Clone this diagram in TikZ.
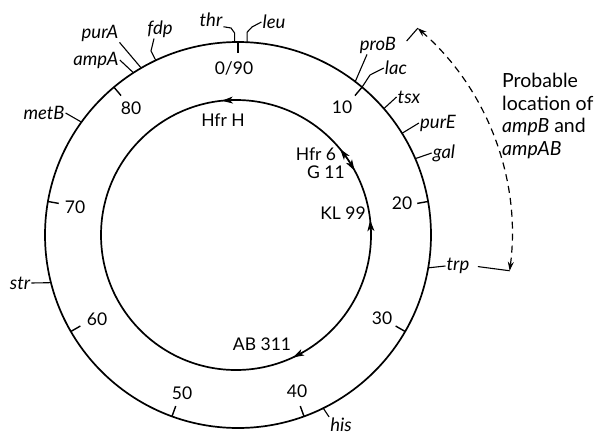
\documentclass[tikz,border=0pt]{standalone}
\usepackage{fontspec}
\setmainfont{Lato}
\usetikzlibrary{arrows.meta,calc}
\begin{document}
\begin{tikzpicture}[x=1pt,y=-1pt,
  txt/.style={font=\fontsize{17.5}{20}\selectfont, inner sep=1pt},
  gene/.style={font=\fontsize{18.5}{20}\selectfont\itshape, inner sep=1pt},
  ring/.style={line width=1.7pt},
  tickmark/.style={line width=1.4pt},
  leader/.style={line width=1.1pt},
  dir/.style={line width=1pt,-{Stealth[length=11pt,width=7pt,inset=3pt]}},
  bracket/.style={line width=1.2pt, dash pattern=on 7pt off 5pt,
    {Stealth[length=9pt,width=6pt]}-{Stealth[length=9pt,width=6pt]}}
]
\useasboundingbox (0,0) rectangle (600,436);

% centres of the chromosome map and of the transfer circle
\coordinate (O) at (238,235);
\coordinate (I) at (236,235);
\draw[ring] (O) circle[radius=193pt];
\draw[ring] (I) circle[radius=135pt];

% minute scale: 0..90 minutes, clockwise from the top
\foreach \u in {0,10,...,80}
  \draw[tickmark] ($(O)+({90-4*\u}:193pt)$) -- ($(O)+({90-4*\u}:182pt)$);

\node[txt] (n0)  at (234,68)  {0/90};
\node[txt] (n10) at (342,107) {10};
\node[txt] (n20) at (402,203) {20};
\node[txt] (n30) at (382,318) {30};
\node[txt] (n40) at (297,391) {40};
\node[txt] (n50) at (182,393) {50};
\node[txt] (n60) at (97,319)  {60};
\node[txt] (n70) at (75,207)  {70};
\node[txt] (n80) at (131,108) {80};

% gene loci on the map (angle clockwise from the top)
\foreach \n/\a in {thr/-1, leu/2.7, fdp/-25.2, purA/-30.1, ampA/-32.8,
                   metB/-54.2, str/-104.3, proB/37.4, lac/40, tsx/49.1,
                   purE/58.2, gal/66.7, trp/99.8, his/153.8}
  \coordinate (g-\n) at ($(O)+({90-\a}:193pt)$);

\node[gene] (thr)  at (211,20)  {thr};
\node[gene] (leu)  at (274,22)  {leu};
\node[gene] (fdp)  at (160,29)  {fdp};
\node[gene] (purA) at (100,33)  {purA};
\node[gene] (ampA) at (96,60)   {ampA};
\node[gene] (metB) at (44,113)  {metB};
\node[gene] (str)  at (20,283)  {str};
\node[gene] (proB) at (378,45)  {proB};
\node[gene] (lac)  at (396,68)  {lac};
\node[gene] (tsx)  at (409,97)  {tsx};
\node[gene] (purE) at (438,123) {purE};
\node[gene] (gal)  at (444,153) {gal};
\node[gene] (trp)  at (458,266) {trp};
\node[gene] (his)  at (341,425) {his};

\draw[leader] (g-thr) -- ++(0,-9) -- (231,28) -- (thr.base east);
\draw[leader] (g-leu) -- ++(0,-10) -- (252,27) -- (leu.west);
\draw[leader] (g-fdp) -- (151,51) -- ([xshift=-6pt]fdp.south);
\draw[leader] (g-purA) -- (purA.south east);
\draw[leader] (g-ampA) -- (ampA.east);
\draw[leader] (g-metB) -- (metB.east);
\draw[leader] (g-str) -- (str.east);
\draw[leader] (g-proB) -- ([xshift=-11pt]proB.south);
\draw[leader] (g-lac) -- (370,75) -- (lac.west);
\draw[leader] (g-tsx) -- (tsx.west);
\draw[leader] (g-purE) -- (purE.west);
\draw[leader] (g-gal) -- (gal.west);
\draw[leader] (g-trp) -- (trp.west);
\draw[leader] (g-his) -- (his.north west);

% points of origin and direction of transfer of the Hfr strains
\node[txt] (hfrH)  at (223,120) {Hfr H};
\node[txt] (hfr6)  at (316,154) {Hfr 6};
\node[txt] (g11)   at (326,172) {G 11};
\node[txt] (kl99)  at (343,213) {KL 99};
\node[txt] (ab311) at (262,344) {AB 311};

\draw[dir] ($(I)+(91:135pt)$)   -- ($(I)+(96:135pt)$);
\draw[dir] ($(I)+(34.5:135pt)$) -- ($(I)+(39.5:135pt)$);
\draw[dir] ($(I)+(33.5:135pt)$) -- ($(I)+(28.5:135pt)$);
\draw[dir] ($(I)+(1.3:135pt)$)  -- ($(I)+(6.3:135pt)$);
\draw[dir] ($(I)+(-60:135pt)$)  -- ($(I)+(-65:135pt)$);

% range bracket for ampB / ampAB
\coordinate (bt) at ($(O)+(49:274pt)$);
\coordinate (bb) at ($(O)+(-7.5:274pt)$);
\draw[bracket] (bt) arc[start angle=49, end angle=-7.5, radius=274pt];
\draw[leader] (bt) -- ($(O)+(49:257pt)$);
\draw[leader] (bb) -- ($(O)+(-7.5:242pt)$);

\node[anchor=north west, align=left, inner sep=0pt,
      font=\fontsize{19.5}{22.5}\selectfont] (note) at (502,73)
  {Probable\\location of\\\textit{ampB} and\\\textit{ampAB}};
\end{tikzpicture}
\end{document}
